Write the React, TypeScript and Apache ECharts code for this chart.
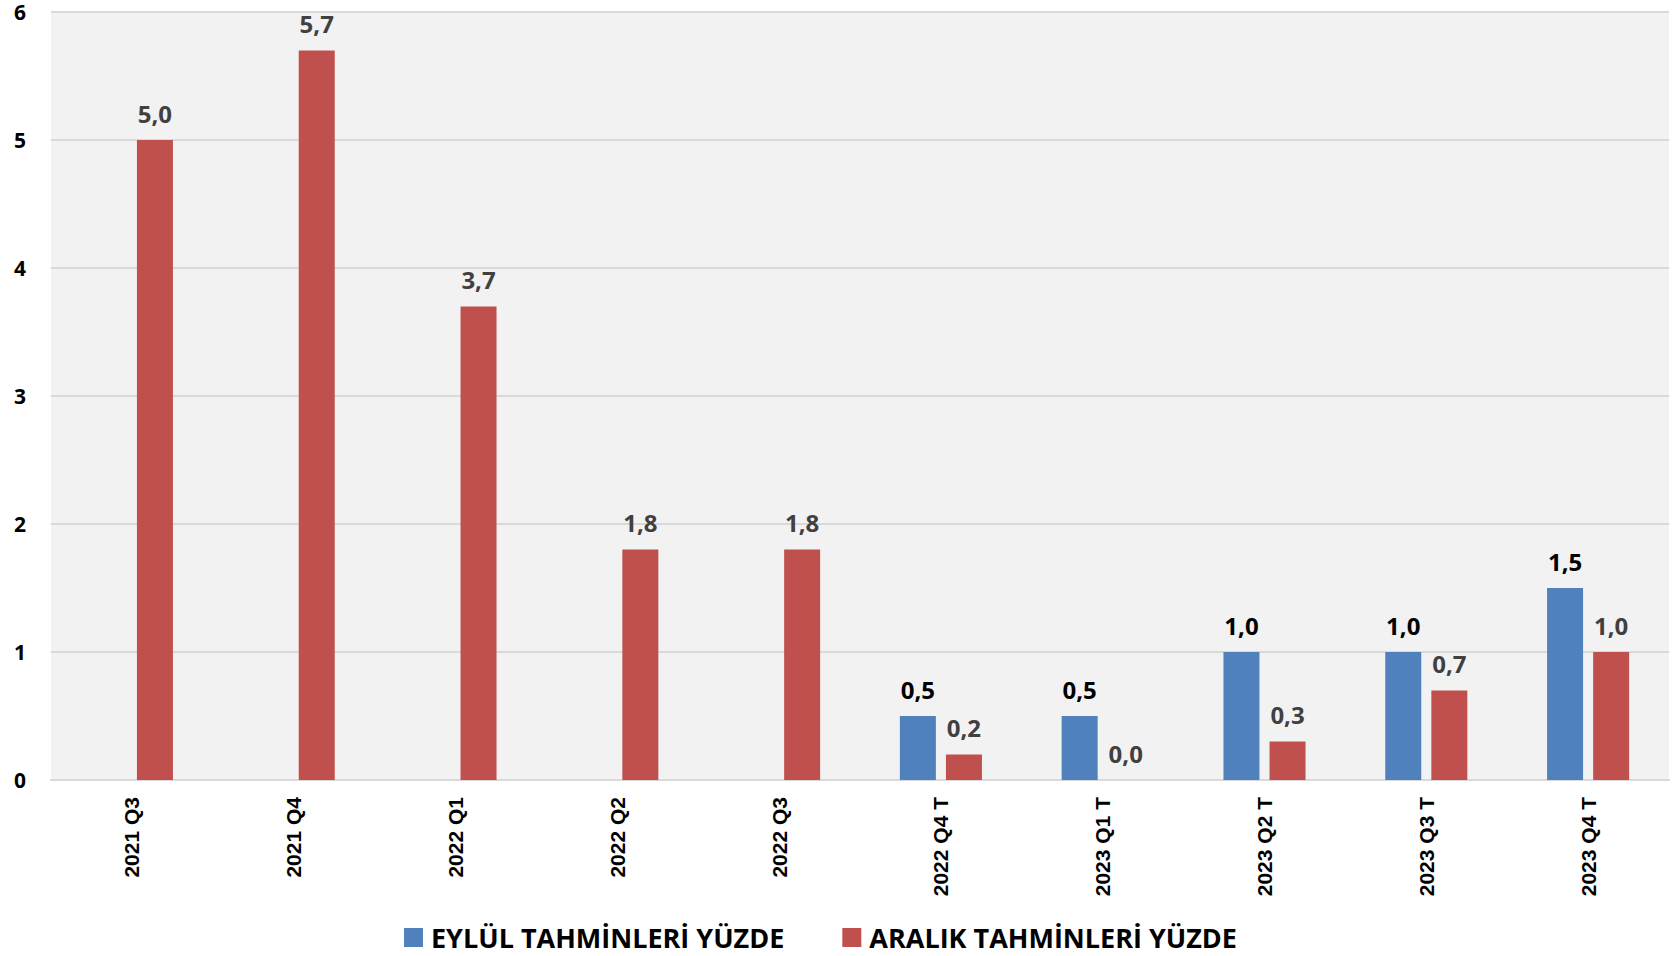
import React, { useEffect, useRef } from "react";
import * as echarts from "echarts";

const categories = [
  "2021 Q3",
  "2021 Q4",
  "2022 Q1",
  "2022 Q2",
  "2022 Q3",
  "2022 Q4 T",
  "2023 Q1 T",
  "2023 Q2 T",
  "2023 Q3 T",
  "2023 Q4 T",
];
const eylulValues: (number | null)[] = [null, null, null, null, null, 0.5, 0.5, 1.0, 1.0, 1.5];
const aralikValues: (number | null)[] = [5.0, 5.7, 3.7, 1.8, 1.8, 0.2, 0.0, 0.3, 0.7, 1.0];
const seriesNames = ["EYLÜL TAHMİNLERİ YÜZDE", "ARALIK TAHMİNLERİ YÜZDE"];
const yTicks = { min: 0, max: 6, interval: 1 };

const fmt = (p: any) =>
  p.value === null || p.value === undefined ? "" : Number(p.value).toFixed(1).replace(".", ",");

export default function App() {
  const ref = useRef<HTMLDivElement>(null);
  useEffect(() => {
    document.body.style.margin = "0";
    if (!ref.current) return;
    const chart = echarts.init(ref.current, undefined, { renderer: "svg" });
    chart.setOption({
      animation: false,
      backgroundColor: "#ffffff",
      grid: {
        left: 51,
        right: 8,
        top: 12,
        bottom: 176,
        show: true,
        backgroundColor: "#f2f2f2",
        borderWidth: 0,
      },
      legend: {
        left: 404,
        top: 924,
        padding: 0,
        icon: "rect",
        itemWidth: 19,
        itemHeight: 19,
        itemGap: 58,
        data: seriesNames,
        textStyle: {
          fontFamily: "Open Sans",
          fontWeight: "bold",
          fontSize: 27,
          color: "#000000",
          padding: [0, 0, 0, 3],
        },
      },
      xAxis: {
        type: "category",
        data: categories,
        axisTick: { show: false },
        axisLine: { show: true, lineStyle: { color: "#d9d9d9", width: 2 } },
        axisLabel: {
          rotate: 90,
          margin: 17,
          interval: 0,
          fontFamily: "Liberation Sans",
          fontWeight: "bold",
          fontSize: 21,
          color: "#000000",
        },
      },
      yAxis: {
        type: "value",
        min: yTicks.min,
        max: yTicks.max,
        interval: yTicks.interval,
        axisLine: { show: false },
        axisTick: { show: false },
        splitLine: { show: true, lineStyle: { color: "#d9d9d9", width: 2 } },
        axisLabel: {
          margin: 25,
          fontFamily: "Open Sans",
          fontWeight: "bold",
          fontSize: 21,
          lineHeight: 16,
          color: "#000000",
        },
      },
      series: [
        {
          name: seriesNames[0],
          type: "bar",
          data: eylulValues,
          barWidth: 36,
          barGap: "28%",
          itemStyle: { color: "#4f81bd" },
          label: {
            show: true,
            position: "top",
            distance: 15,
            formatter: fmt,
            fontFamily: "Open Sans",
            fontWeight: "bold",
            fontSize: 24,
            color: "#000000",
          },
        },
        {
          name: seriesNames[1],
          type: "bar",
          data: aralikValues,
          barWidth: 36,
          barGap: "28%",
          itemStyle: { color: "#c0504d" },
          label: {
            show: true,
            position: "top",
            distance: 15,
            formatter: fmt,
            fontFamily: "Open Sans",
            fontWeight: "bold",
            fontSize: 24,
            color: "#404040",
          },
        },
      ],
    });
    return () => chart.dispose();
  }, []);
  return <div ref={ref} style={{ width: 1677, height: 956 }} />;
}
